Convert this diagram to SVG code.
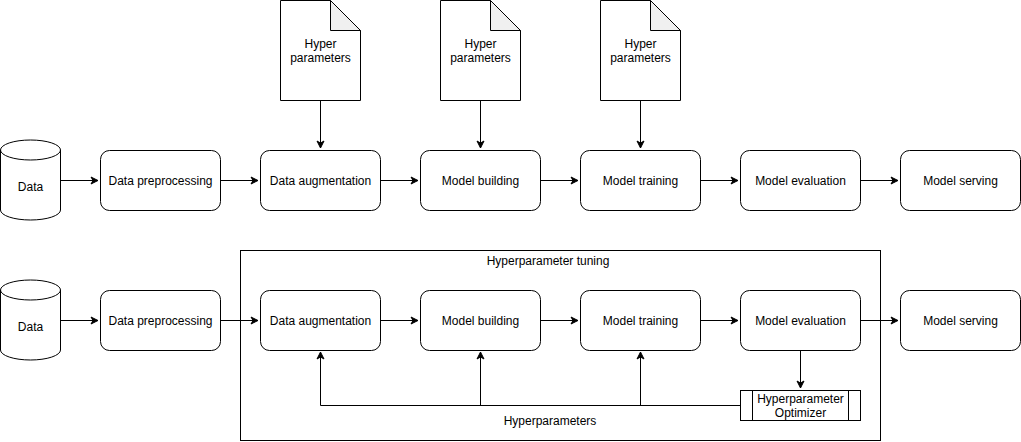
<svg xmlns="http://www.w3.org/2000/svg" width="1021" height="442" viewBox="0 0 1021 442">
<style>
.n{fill:#fff;stroke:#000;stroke-width:1}
.t{font-family:"Liberation Sans",Arial,sans-serif;font-size:12px;fill:#000;text-anchor:middle;dominant-baseline:central}
.c{fill:none;stroke:#000;stroke-width:1}
</style>
<defs>
<marker id="a" markerWidth="10" markerHeight="10" refX="8" refY="5" orient="auto" markerUnits="userSpaceOnUse">
<path d="M1,1.5 L8,5 L1,8.5 L3,5 Z" fill="#000" stroke="#000" stroke-width="1"/>
</marker>
</defs>
<rect width="1021" height="442" fill="#fff"/>
<g id="container">
<rect x="240.5" y="250.5" width="640" height="190" fill="none" stroke="#000"/>
<text class="t" x="548" y="261">Hyperparameter tuning</text>
<text class="t" x="550" y="421">Hyperparameters</text>
</g>
<g id="connectors">
<path class="c" d="M60,180.5 H98" marker-end="url(#a)"/>
<path class="c" d="M220,180.5 H258" marker-end="url(#a)"/>
<path class="c" d="M380,180.5 H418" marker-end="url(#a)"/>
<path class="c" d="M540,180.5 H578" marker-end="url(#a)"/>
<path class="c" d="M700,180.5 H738" marker-end="url(#a)"/>
<path class="c" d="M860,180.5 H898" marker-end="url(#a)"/>
<path class="c" d="M320.5,100 V148" marker-end="url(#a)"/>
<path class="c" d="M480.5,100 V148" marker-end="url(#a)"/>
<path class="c" d="M640.5,100 V148" marker-end="url(#a)"/>
<path class="c" d="M60,320.5 H98" marker-end="url(#a)"/>
<path class="c" d="M220,320.5 H258" marker-end="url(#a)"/>
<path class="c" d="M380,320.5 H418" marker-end="url(#a)"/>
<path class="c" d="M540,320.5 H578" marker-end="url(#a)"/>
<path class="c" d="M700,320.5 H738" marker-end="url(#a)"/>
<path class="c" d="M860,320.5 H898" marker-end="url(#a)"/>
<path class="c" d="M800.5,350 V388" marker-end="url(#a)"/>
<path class="c" d="M740,405.5 H320.5 V352" marker-end="url(#a)"/>
<path class="c" d="M480.5,405.5 V352" marker-end="url(#a)"/>
<path class="c" d="M640.5,405.5 V352" marker-end="url(#a)"/>
</g>
<g id="data1">
<path class="n" d="M0.5,150 A30,10 0 0 1 60.5,150 V210 A30,10 0 0 1 0.5,210 Z"/>
<path class="c" d="M0.5,150 A30,10 0 0 0 60.5,150"/>
<text class="t" x="30.5" y="187">Data</text>
</g>
<g id="pre1"><rect class="n" x="100.5" y="150.5" width="120" height="60" rx="9"/><text class="t" x="160.5" y="181">Data preprocessing</text></g>
<g id="aug1"><rect class="n" x="260.5" y="150.5" width="120" height="60" rx="9"/><text class="t" x="320.5" y="181">Data augmentation</text></g>
<g id="build1"><rect class="n" x="420.5" y="150.5" width="120" height="60" rx="9"/><text class="t" x="480.5" y="181">Model building</text></g>
<g id="train1"><rect class="n" x="580.5" y="150.5" width="120" height="60" rx="9"/><text class="t" x="640.5" y="181">Model training</text></g>
<g id="eval1"><rect class="n" x="740.5" y="150.5" width="120" height="60" rx="9"/><text class="t" x="800.5" y="181">Model evaluation</text></g>
<g id="serve1"><rect class="n" x="900.5" y="150.5" width="120" height="60" rx="9"/><text class="t" x="960.5" y="181">Model serving</text></g>
<g id="hp1">
<path class="n" d="M280.5,0.5 H330.5 L360.5,30.5 V100.5 H280.5 Z"/>
<path d="M330.5,0.5 V30.5 H360.5 Z" fill="#f0f0f0" stroke="#000"/>
<text class="t" x="320.5" y="44">Hyper</text><text class="t" x="320.5" y="58">parameters</text>
</g>
<g id="hp2">
<path class="n" d="M440.5,0.5 H490.5 L520.5,30.5 V100.5 H440.5 Z"/>
<path d="M490.5,0.5 V30.5 H520.5 Z" fill="#f0f0f0" stroke="#000"/>
<text class="t" x="480.5" y="44">Hyper</text><text class="t" x="480.5" y="58">parameters</text>
</g>
<g id="hp3">
<path class="n" d="M600.5,0.5 H650.5 L680.5,30.5 V100.5 H600.5 Z"/>
<path d="M650.5,0.5 V30.5 H680.5 Z" fill="#f0f0f0" stroke="#000"/>
<text class="t" x="640.5" y="44">Hyper</text><text class="t" x="640.5" y="58">parameters</text>
</g>
<g id="data2">
<path class="n" d="M0.5,290 A30,10 0 0 1 60.5,290 V350 A30,10 0 0 1 0.5,350 Z"/>
<path class="c" d="M0.5,290 A30,10 0 0 0 60.5,290"/>
<text class="t" x="30.5" y="327">Data</text>
</g>
<g id="pre2"><rect class="n" x="100.5" y="290.5" width="120" height="60" rx="9"/><text class="t" x="160.5" y="321">Data preprocessing</text></g>
<g id="aug2"><rect class="n" x="260.5" y="290.5" width="120" height="60" rx="9"/><text class="t" x="320.5" y="321">Data augmentation</text></g>
<g id="build2"><rect class="n" x="420.5" y="290.5" width="120" height="60" rx="9"/><text class="t" x="480.5" y="321">Model building</text></g>
<g id="train2"><rect class="n" x="580.5" y="290.5" width="120" height="60" rx="9"/><text class="t" x="640.5" y="321">Model training</text></g>
<g id="eval2"><rect class="n" x="740.5" y="290.5" width="120" height="60" rx="9"/><text class="t" x="800.5" y="321">Model evaluation</text></g>
<g id="serve2"><rect class="n" x="900.5" y="290.5" width="120" height="60" rx="9"/><text class="t" x="960.5" y="321">Model serving</text></g>
<g id="optimizer">
<rect class="n" x="740.5" y="390.5" width="120" height="30"/>
<path class="c" d="M752.5,390.5 V420.5 M848.5,390.5 V420.5"/>
<text class="t" x="800.5" y="399">Hyperparameter</text><text class="t" x="800.5" y="413">Optimizer</text>
</g>
</svg>
